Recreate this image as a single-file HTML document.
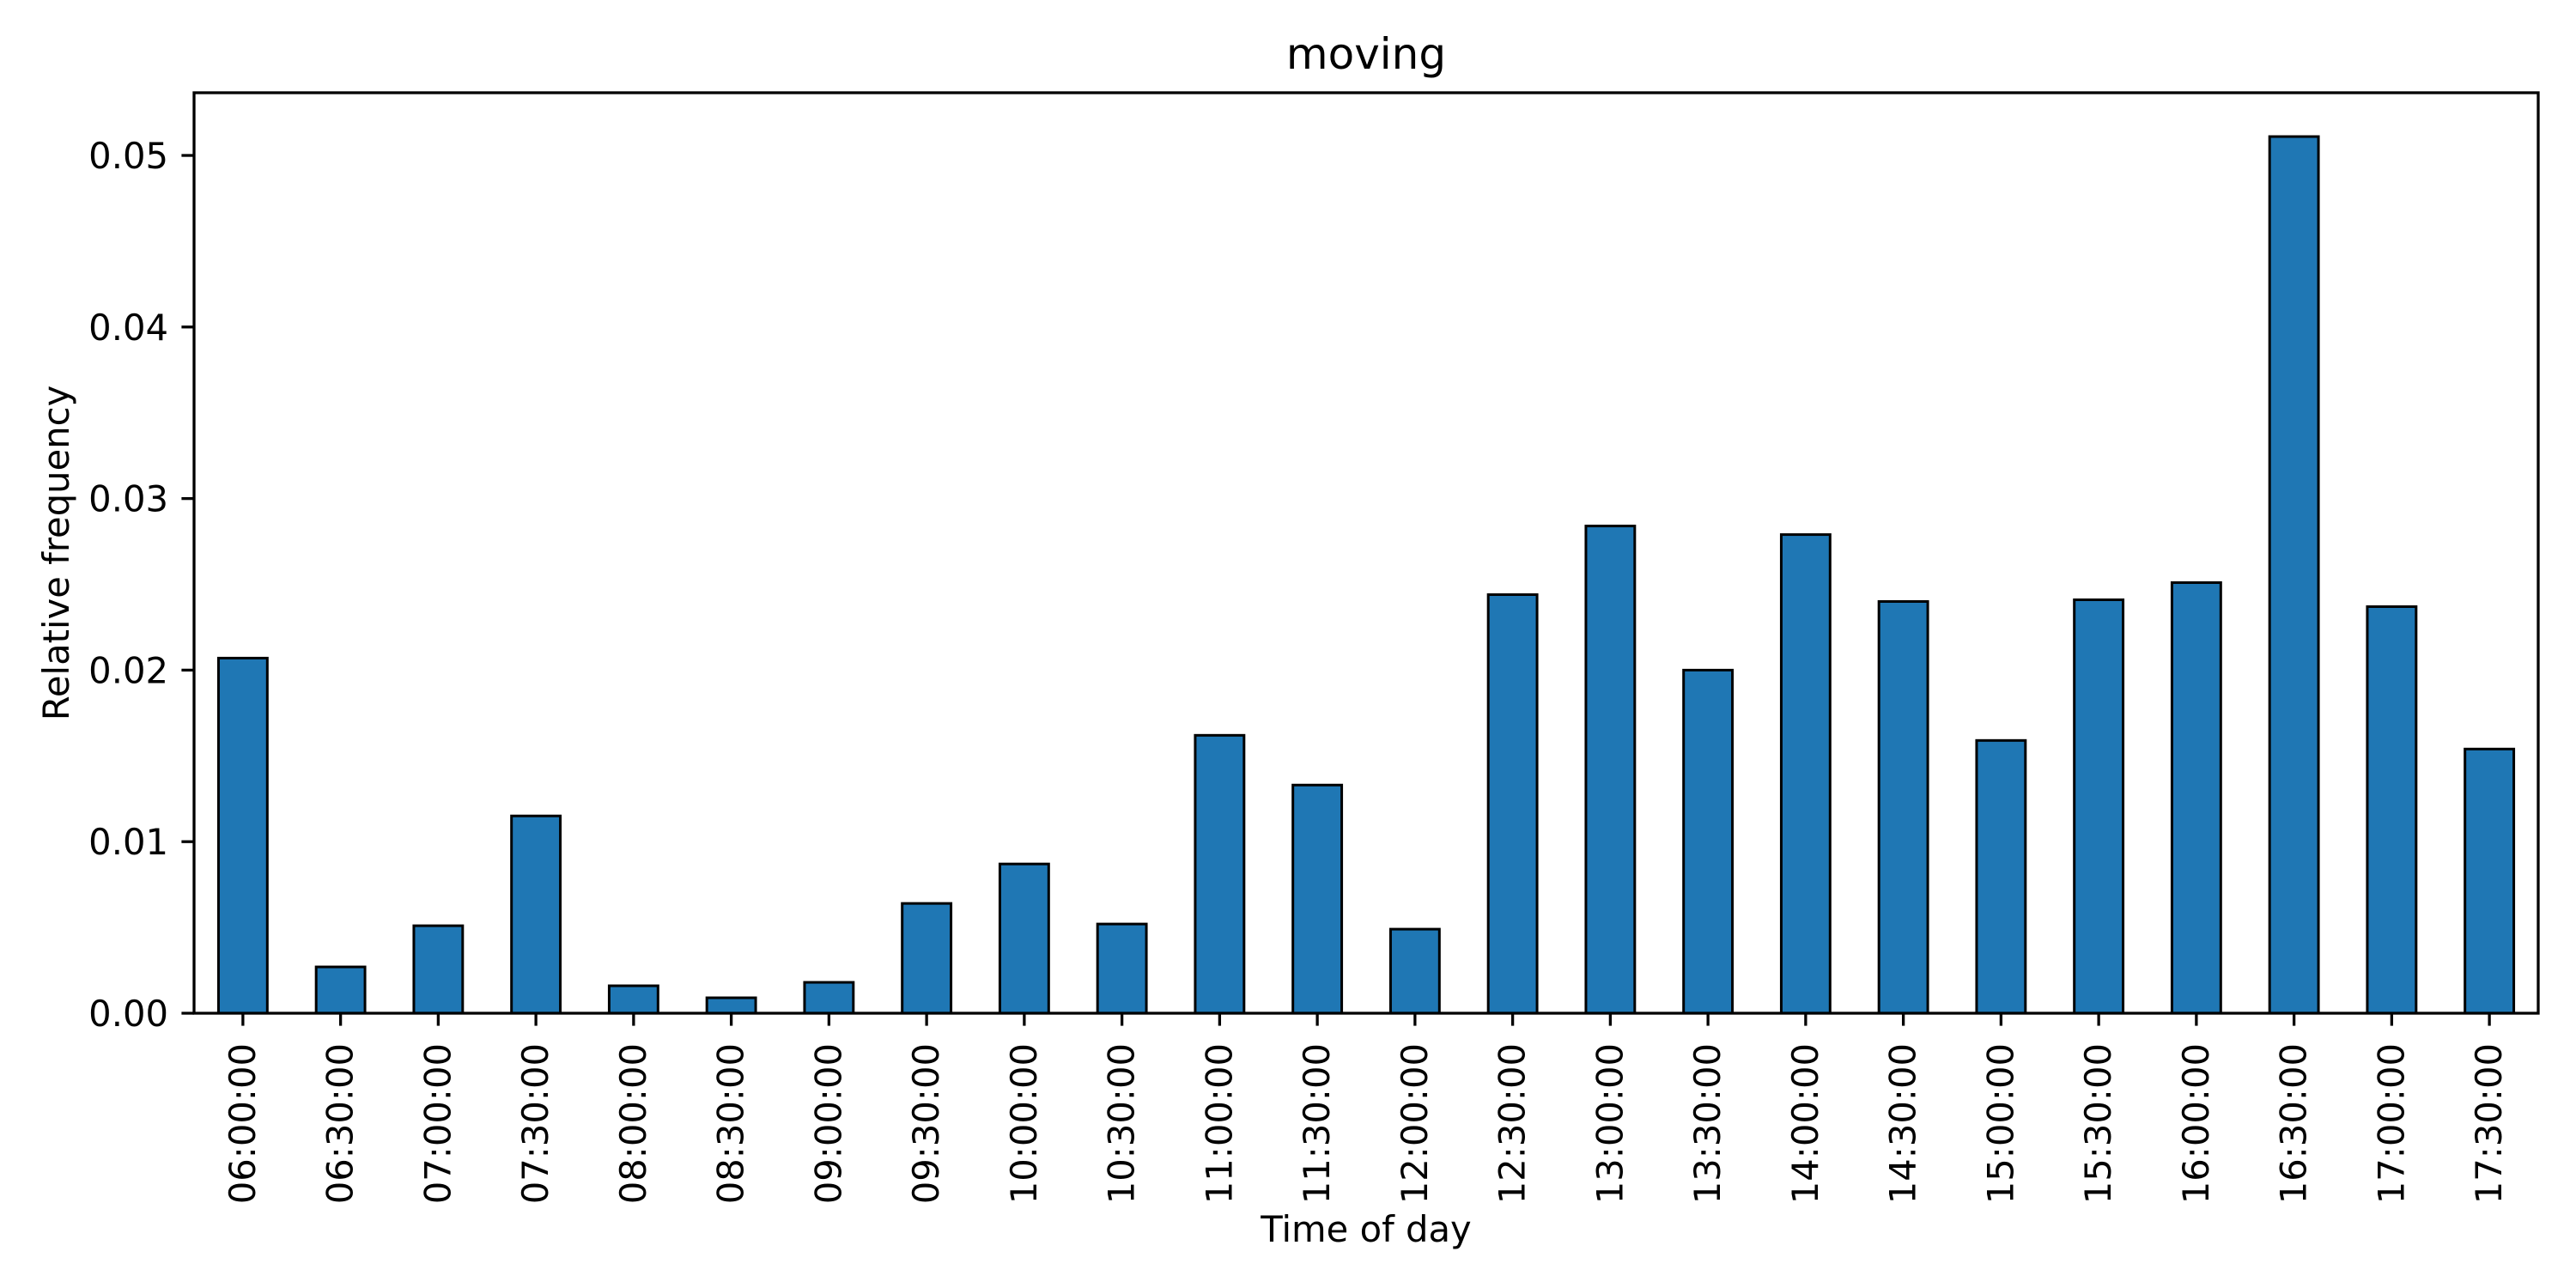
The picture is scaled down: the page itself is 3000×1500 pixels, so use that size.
<!DOCTYPE html>
<html><head><meta charset="utf-8"><style>html,body{margin:0;padding:0;background:#fff}svg{display:block}</style></head>
<body>
<svg id="chart" width="3000" height="1500" viewBox="0 0 3000 1500" xmlns="http://www.w3.org/2000/svg" font-family="DejaVu Sans, Liberation Sans, sans-serif">
<rect x="0" y="0" width="3000" height="1500" fill="#fff"/>
<text x="1591" y="80" font-size="50" text-anchor="middle">moving</text>
<text x="1591" y="1446" font-size="41.7" text-anchor="middle">Time of day</text>
<text transform="translate(80,644) rotate(-90)" font-size="41.7" text-anchor="middle">Relative frequency</text>
<g id="bars"></g>
<g id="xticks"></g>
<g id="yticks"></g>
<rect x="226" y="108" width="2730" height="1072" fill="none" stroke="#000" stroke-width="3.3"/>
</svg>
<script>
const categories = ["06:00:00","06:30:00","07:00:00","07:30:00","08:00:00","08:30:00","09:00:00","09:30:00","10:00:00","10:30:00","11:00:00","11:30:00","12:00:00","12:30:00","13:00:00","13:30:00","14:00:00","14:30:00","15:00:00","15:30:00","16:00:00","16:30:00","17:00:00","17:30:00"];
const values = [0.0207,0.0027,0.0051,0.0115,0.0016,0.0009,0.0018,0.0064,0.0087,0.0052,0.0162,0.0133,0.0049,0.0244,0.0284,0.0200,0.0279,0.0240,0.0159,0.0241,0.0251,0.0511,0.0237,0.0154];
const yTicks = [0,0.01,0.02,0.03,0.04,0.05];
const yTickLabels = ["0.00","0.01","0.02","0.03","0.04","0.05"];

const NS = "http://www.w3.org/2000/svg";
const L = 226, R = 2956, T = 108, B = 1180;
const yMax = Math.max(...values) * 1.05;
const n = categories.length;
const step = (R - L) / n;
function xPos(i) { return L + step * (i + 0.5); }
function yPos(v) { return B - (v / yMax) * (B - T); }

const bars = document.getElementById('bars');
values.forEach((v, i) => {
  const r = document.createElementNS(NS, 'rect');
  const w = step * 0.5;
  r.setAttribute('x', xPos(i) - w / 2);
  r.setAttribute('y', yPos(v));
  r.setAttribute('width', w);
  r.setAttribute('height', B - yPos(v));
  r.setAttribute('fill', '#1f77b4');
  r.setAttribute('stroke', '#000');
  r.setAttribute('stroke-width', '3');
  
  
  bars.appendChild(r);
});

const xt = document.getElementById('xticks');
categories.forEach((c, i) => {
  const x = xPos(i);
  const ln = document.createElementNS(NS, 'line');
  ln.setAttribute('x1', x); ln.setAttribute('x2', x);
  ln.setAttribute('y1', B); ln.setAttribute('y2', B + 14.6);
  ln.setAttribute('stroke', '#000'); ln.setAttribute('stroke-width', '3.3');
  
  
  xt.appendChild(ln);
  const t = document.createElementNS(NS, 'text');
  t.setAttribute('transform', 'translate(' + (x + 14) + ',' + (B + 35) + ') rotate(-90)');
  t.setAttribute('font-size', '41.7');
  t.setAttribute('text-anchor', 'end');
  t.textContent = c;
  
  
  xt.appendChild(t);
});

const yt = document.getElementById('yticks');
yTicks.forEach((v, i) => {
  const y = yPos(v);
  const ln = document.createElementNS(NS, 'line');
  ln.setAttribute('x1', L - 14.6); ln.setAttribute('x2', L);
  ln.setAttribute('y1', y); ln.setAttribute('y2', y);
  ln.setAttribute('stroke', '#000'); ln.setAttribute('stroke-width', '3.3');
  
  
  yt.appendChild(ln);
  const t = document.createElementNS(NS, 'text');
  t.setAttribute('x', L - 30);
  t.setAttribute('y', y + 15);
  t.setAttribute('font-size', '41.7');
  t.setAttribute('text-anchor', 'end');
  t.textContent = yTickLabels[i];
  
  
  yt.appendChild(t);
});
</script>
</body></html>
